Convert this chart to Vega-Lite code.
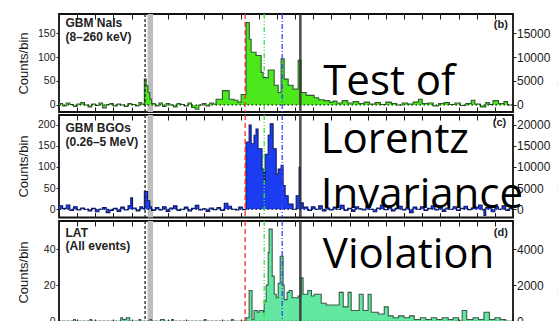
{
  "$schema": "https://vega.github.io/schema/vega-lite/v6.json",
  "padding": {"left": 16, "top": 11, "right": 0, "bottom": 0},
  "spacing": 3,
  "bounds": "flush",
  "datasets": {
    "nai": [
      {"t":-0.50,"v":3},{"t":-0.48,"v":-2},{"t":-0.46,"v":4},{"t":-0.44,"v":1},{"t":-0.42,"v":-3},{"t":-0.40,"v":2},{"t":-0.38,"v":5},{"t":-0.36,"v":0},{"t":-0.34,"v":-4},{"t":-0.32,"v":2},{"t":-0.30,"v":-1},{"t":-0.28,"v":4},{"t":-0.26,"v":-6},{"t":-0.24,"v":1},{"t":-0.22,"v":3},{"t":-0.20,"v":-2},{"t":-0.18,"v":2},{"t":-0.16,"v":0},{"t":-0.14,"v":-3},{"t":-0.12,"v":3},{"t":-0.10,"v":1},{"t":-0.08,"v":-2},{"t":-0.06,"v":5},{"t":-0.045,"v":2},
      {"t":-0.03,"v":54},{"t":-0.02,"v":40},{"t":-0.01,"v":26},{"t":0.00,"v":12},{"t":0.01,"v":3},{"t":0.03,"v":-2},{"t":0.05,"v":4},{"t":0.07,"v":-3},{"t":0.09,"v":3},{"t":0.11,"v":0},{"t":0.13,"v":-4},{"t":0.15,"v":3},{"t":0.17,"v":1},{"t":0.19,"v":-2},{"t":0.21,"v":4},{"t":0.23,"v":-5},{"t":0.25,"v":-9},{"t":0.27,"v":0},{"t":0.29,"v":3},{"t":0.31,"v":-2},{"t":0.33,"v":4},{"t":0.35,"v":2},
      {"t":0.365,"v":12},{"t":0.40,"v":30},{"t":0.437,"v":12},{"t":0.464,"v":10},{"t":0.485,"v":6},{"t":0.503,"v":22},
      {"t":0.530,"v":172},{"t":0.548,"v":137},{"t":0.558,"v":110},{"t":0.585,"v":103},{"t":0.613,"v":68},{"t":0.624,"v":57},{"t":0.652,"v":73},{"t":0.685,"v":41},{"t":0.707,"v":26},{"t":0.723,"v":96},{"t":0.740,"v":54},{"t":0.762,"v":41},{"t":0.789,"v":33},{"t":0.817,"v":93},{"t":0.833,"v":26},{"t":0.861,"v":20},{"t":0.905,"v":15},{"t":0.93,"v":11},{"t":0.96,"v":9},{"t":0.99,"v":6},
      {"t":1.01,"v":8},{"t":1.03,"v":4},{"t":1.06,"v":9},{"t":1.09,"v":4},{"t":1.12,"v":7},{"t":1.15,"v":3},{"t":1.18,"v":6},{"t":1.21,"v":2},{"t":1.24,"v":5},{"t":1.27,"v":1},{"t":1.30,"v":6},{"t":1.33,"v":3},{"t":1.36,"v":0},{"t":1.39,"v":4},{"t":1.42,"v":2},{"t":1.45,"v":6},{"t":1.48,"v":12},{"t":1.50,"v":3},{"t":1.53,"v":4},{"t":1.56,"v":-2},{"t":1.59,"v":3},{"t":1.62,"v":5},{"t":1.65,"v":1},{"t":1.68,"v":4},{"t":1.71,"v":-1},{"t":1.74,"v":3},{"t":1.77,"v":10},{"t":1.79,"v":2},{"t":1.82,"v":-4},{"t":1.85,"v":5},{"t":1.87,"v":1},{"t":1.89,"v":9},{"t":1.92,"v":3},{"t":1.95,"v":7},{"t":1.97,"v":0},{"t":2.00,"v":0}
    ],
    "bgo": [
      {"t":-0.50,"v":8},{"t":-0.48,"v":2},{"t":-0.46,"v":10},{"t":-0.44,"v":-3},{"t":-0.42,"v":6},{"t":-0.40,"v":-2},{"t":-0.38,"v":3},{"t":-0.36,"v":0},{"t":-0.34,"v":-4},{"t":-0.32,"v":2},{"t":-0.30,"v":-6},{"t":-0.28,"v":0},{"t":-0.26,"v":4},{"t":-0.24,"v":-8},{"t":-0.22,"v":-3},{"t":-0.20,"v":2},{"t":-0.18,"v":-5},{"t":-0.16,"v":5},{"t":-0.14,"v":-2},{"t":-0.12,"v":8},{"t":-0.105,"v":27},{"t":-0.095,"v":3},{"t":-0.075,"v":-4},{"t":-0.055,"v":6},{"t":-0.04,"v":2},
      {"t":-0.03,"v":42},{"t":-0.012,"v":20},{"t":0.00,"v":6},{"t":0.01,"v":-3},{"t":0.03,"v":4},{"t":0.05,"v":-2},{"t":0.07,"v":6},{"t":0.09,"v":-5},{"t":0.11,"v":3},{"t":0.13,"v":8},{"t":0.15,"v":-3},{"t":0.17,"v":0},{"t":0.19,"v":5},{"t":0.21,"v":-4},{"t":0.23,"v":2},{"t":0.25,"v":9},{"t":0.27,"v":-2},{"t":0.29,"v":1},{"t":0.31,"v":-5},{"t":0.33,"v":3},{"t":0.35,"v":-1},{"t":0.37,"v":4},{"t":0.39,"v":-3},{"t":0.41,"v":14},{"t":0.43,"v":7},{"t":0.45,"v":0},{"t":0.47,"v":-2},{"t":0.49,"v":5},{"t":0.51,"v":-1},
      {"t":0.530,"v":159},{"t":0.547,"v":199},{"t":0.558,"v":155},{"t":0.574,"v":175},{"t":0.585,"v":190},{"t":0.596,"v":143},{"t":0.618,"v":95},{"t":0.629,"v":64},{"t":0.635,"v":130},{"t":0.652,"v":175},{"t":0.663,"v":202},{"t":0.679,"v":143},{"t":0.696,"v":83},{"t":0.707,"v":95},{"t":0.723,"v":104},{"t":0.734,"v":56},{"t":0.745,"v":32},{"t":0.762,"v":12},{"t":0.789,"v":0},{"t":0.806,"v":32},{"t":0.822,"v":99},{"t":0.828,"v":15},{"t":0.845,"v":5},
      {"t":0.87,"v":-3},{"t":0.89,"v":6},{"t":0.91,"v":0},{"t":0.93,"v":8},{"t":0.95,"v":-4},{"t":0.97,"v":3},{"t":0.99,"v":-2},{"t":1.01,"v":5},{"t":1.03,"v":0},{"t":1.05,"v":9},{"t":1.07,"v":-3},{"t":1.09,"v":2},{"t":1.11,"v":-5},{"t":1.13,"v":6},{"t":1.15,"v":1},{"t":1.17,"v":-2},{"t":1.19,"v":8},{"t":1.21,"v":0},{"t":1.23,"v":-6},{"t":1.25,"v":3},{"t":1.27,"v":10},{"t":1.29,"v":-1},{"t":1.31,"v":4},{"t":1.33,"v":-4},{"t":1.35,"v":2},{"t":1.37,"v":7},{"t":1.39,"v":-2},{"t":1.41,"v":3},{"t":1.43,"v":-8},{"t":1.45,"v":5},{"t":1.47,"v":0},{"t":1.49,"v":6},{"t":1.51,"v":-3},{"t":1.53,"v":2},{"t":1.55,"v":8},{"t":1.57,"v":-2},{"t":1.59,"v":4},{"t":1.61,"v":-5},{"t":1.63,"v":3},{"t":1.65,"v":0},{"t":1.67,"v":6},{"t":1.69,"v":-3},{"t":1.71,"v":2},{"t":1.73,"v":7},{"t":1.75,"v":-1},{"t":1.77,"v":3},{"t":1.79,"v":5},{"t":1.81,"v":10},{"t":1.83,"v":-2},{"t":1.84,"v":-15},{"t":1.85,"v":4},{"t":1.88,"v":-6},{"t":1.90,"v":6},{"t":1.92,"v":0},{"t":1.94,"v":8},{"t":1.96,"v":-3},{"t":1.98,"v":2},{"t":2.00,"v":2}
    ],
    "lat": [
      {"t":-0.50,"v":0},{"t":-0.42,"v":1},{"t":-0.41,"v":0},{"t":-0.33,"v":1},{"t":-0.32,"v":0},{"t":-0.16,"v":2},{"t":-0.15,"v":1},{"t":-0.13,"v":2},{"t":-0.11,"v":0},{"t":-0.06,"v":1},{"t":-0.05,"v":0},{"t":0.00,"v":1},{"t":0.01,"v":0},{"t":0.06,"v":1},{"t":0.08,"v":0},{"t":0.12,"v":1},{"t":0.13,"v":0},{"t":0.30,"v":1},{"t":0.31,"v":0},{"t":0.45,"v":1},{"t":0.46,"v":0},
      {"t":0.530,"v":2},{"t":0.547,"v":17},{"t":0.563,"v":1},{"t":0.574,"v":6},{"t":0.591,"v":5},{"t":0.602,"v":6},{"t":0.624,"v":5},{"t":0.630,"v":11},{"t":0.641,"v":20},{"t":0.652,"v":38},{"t":0.657,"v":51},{"t":0.674,"v":25},{"t":0.685,"v":15},{"t":0.696,"v":13},{"t":0.707,"v":21},{"t":0.718,"v":36},{"t":0.734,"v":20},{"t":0.740,"v":12},{"t":0.756,"v":16},{"t":0.767,"v":17},{"t":0.784,"v":13},{"t":0.817,"v":14},{"t":0.833,"v":24},{"t":0.844,"v":15},{"t":0.87,"v":17},{"t":0.89,"v":14},{"t":0.905,"v":15},{"t":0.944,"v":10},{"t":0.971,"v":9},{"t":1.015,"v":9},{"t":1.043,"v":16},{"t":1.065,"v":8},{"t":1.092,"v":16},{"t":1.109,"v":6},{"t":1.153,"v":15},{"t":1.175,"v":6},{"t":1.202,"v":15},{"t":1.219,"v":5},{"t":1.258,"v":4},{"t":1.291,"v":8},{"t":1.313,"v":3},{"t":1.34,"v":2},{"t":1.37,"v":3},{"t":1.40,"v":2},{"t":1.43,"v":3},{"t":1.456,"v":1},{"t":1.49,"v":2},{"t":1.52,"v":1},{"t":1.55,"v":2},{"t":1.58,"v":1},{"t":1.61,"v":2},{"t":1.643,"v":1},{"t":1.67,"v":2},{"t":1.70,"v":0},{"t":1.72,"v":6},{"t":1.745,"v":1},{"t":1.78,"v":2},{"t":1.81,"v":1},{"t":1.84,"v":5},{"t":1.87,"v":1},{"t":1.90,"v":2},{"t":1.93,"v":1},{"t":1.96,"v":0},{"t":2.00,"v":0}
    ],
    "vlines": [
      {"t":-0.026,"kind":"trigger"},{"t":0.525,"kind":"red"},{"t":0.630,"kind":"green"},{"t":0.729,"kind":"blue"}
    ],
    "ghe": [{"t":0.829}],
    "band": [{"t0":-0.012,"t1":0.018}],
    "zero": [{"v":0}],
    "labels": [
      {"panel":"b","t":-0.464,"v":161.5,"text":"GBM NaIs"},
      {"panel":"b","t":-0.464,"v":133.3,"text":"(8–260 keV)"},
      {"panel":"c","t":-0.464,"v":181.6,"text":"GBM BGOs"},
      {"panel":"c","t":-0.464,"v":149.6,"text":"(0.26–5 MeV)"},
      {"panel":"d","t":-0.464,"v":46.6,"text":"LAT"},
      {"panel":"d","t":-0.464,"v":39.2,"text":"(All events)"}
    ],
    "tags": [
      {"panel":"b","t":1.972,"v":160.4,"text":"(b)"},
      {"panel":"c","t":1.963,"v":195.8,"text":"(c)"},
      {"panel":"d","t":1.972,"v":47.2,"text":"(d)"}
    ],
    "overlay": [
      {"panel":"b","t":0.955,"v":19.8,"text":"Test of"},
      {"panel":"c","t":0.941,"v":134.2,"text":"Lorentz"},
      {"panel":"c","t":0.941,"v":4.0,"text":"Invariance"},
      {"panel":"d","t":0.953,"v":29.5,"text":"Violation"}
    ]
  },
  "resolve": {"scale": {"x": "independent", "y": "independent"}},
  "vconcat": [
    {
      "width": 454, "height": 98,
      "layer": [
        {"data": {"name": "band"}, "mark": {"type": "rect", "color": "#bdbdbd"},
         "encoding": {"x": {"field": "t0", "type": "quantitative", "scale": {"domain": [-0.5, 2.0], "nice": false, "zero": false}, "axis": null}, "x2": {"field": "t1"}}},
        {"data": {"name": "nai"}, "mark": {"type": "area", "interpolate": "step-after", "color": "#4ce81c", "opacity": 1},
         "encoding": {
           "x": {"field": "t", "type": "quantitative", "scale": {"domain": [-0.5, 2.0], "nice": false, "zero": false},
                 "axis": {"orient": "bottom", "labels": false, "title": null, "tickSize": -5, "values": [-0.5,-0.4,-0.3,-0.2,-0.1,0,0.1,0.2,0.3,0.4,0.5,0.6,0.7,0.8,0.9,1.0,1.1,1.2,1.3,1.4,1.5,1.6,1.7,1.8,1.9,2.0]}},
           "y": {"field": "v", "type": "quantitative", "scale": {"domain": [-14.6, 189.6], "nice": false, "zero": false},
                 "axis": {"orient": "left", "values": [0,50,100,150], "tickSize": 3, "labelPadding": 1, "title": "Counts/bin", "titleX": -32, "titleY": 49, "titleAngle": 270, "titleBaseline": "alphabetic", "titleAlign": "center"}},
           "y2": {"datum": 0}}},
        {"data": {"name": "nai"}, "mark": {"type": "line", "interpolate": "step-after", "color": "#2e5b2e", "strokeWidth": 1.1},
         "encoding": {
           "x": {"field": "t", "type": "quantitative", "scale": {"domain": [-0.5, 2.0], "nice": false, "zero": false},
                 "axis": {"orient": "top", "labels": false, "title": null, "tickSize": -5, "values": [-0.5,-0.4,-0.3,-0.2,-0.1,0,0.1,0.2,0.3,0.4,0.5,0.6,0.7,0.8,0.9,1.0,1.1,1.2,1.3,1.4,1.5,1.6,1.7,1.8,1.9,2.0]}},
           "y": {"field": "v", "type": "quantitative", "scale": {"domain": [-14.6, 189.6], "nice": false, "zero": false},
                 "axis": {"orient": "right", "values": [0,50,100,150], "tickSize": 3, "labelPadding": 0.5, "labelFontSize": 12, "labelExpr": "format(datum.value * 100, 'd')", "title": "Counts/s", "titleX": 53, "titleY": 49, "titleAngle": 270, "titleBaseline": "alphabetic", "titleAlign": "center"}}}},
        {"data": {"name": "zero"}, "mark": {"type": "rule", "strokeDash": [1.5, 2.5], "color": "#000", "strokeWidth": 1},
         "encoding": {"y": {"field": "v", "type": "quantitative", "scale": {"domain": [-14.6, 189.6], "nice": false, "zero": false}, "axis": null}}},
        {"data": {"name": "vlines"}, "mark": {"type": "rule", "strokeWidth": 1.3},
         "encoding": {"x": {"field": "t", "type": "quantitative", "scale": {"domain": [-0.5, 2.0], "nice": false, "zero": false}, "axis": null},
           "color": {"field": "kind", "type": "nominal", "scale": {"domain": ["trigger","red","green","blue"], "range": ["#222222","#ff2a2a","#3ddf3d","#3344ff"]}, "legend": null},
           "strokeDash": {"field": "kind", "type": "nominal", "scale": {"domain": ["trigger","red","green","blue"], "range": [[3,2],[5,3],[5,2,1,2,1,2],[5,2,1,2]]}, "legend": null}}},
        {"data": {"name": "ghe"}, "mark": {"type": "rule", "strokeWidth": 2.6, "color": "#333333", "opacity": 0.85},
         "encoding": {"x": {"field": "t", "type": "quantitative", "scale": {"domain": [-0.5, 2.0], "nice": false, "zero": false}, "axis": null}}},
        {"data": {"name": "labels"}, "transform": [{"filter": "datum.panel == 'b'"}],
         "mark": {"type": "text", "align": "left", "baseline": "alphabetic", "font": "Liberation Sans", "fontWeight": "bold", "fontSize": 12, "color": "#222"},
         "encoding": {"x": {"field": "t", "type": "quantitative", "scale": {"domain": [-0.5, 2.0], "nice": false, "zero": false}, "axis": null},
           "y": {"field": "v", "type": "quantitative", "scale": {"domain": [-14.6, 189.6], "nice": false, "zero": false}, "axis": null}, "text": {"field": "text"}}},
        {"data": {"name": "tags"}, "transform": [{"filter": "datum.panel == 'b'"}],
         "mark": {"type": "text", "align": "right", "baseline": "alphabetic", "font": "Liberation Sans", "fontWeight": "bold", "fontSize": 11, "color": "#222"},
         "encoding": {"x": {"field": "t", "type": "quantitative", "scale": {"domain": [-0.5, 2.0], "nice": false, "zero": false}, "axis": null},
           "y": {"field": "v", "type": "quantitative", "scale": {"domain": [-14.6, 189.6], "nice": false, "zero": false}, "axis": null}, "text": {"field": "text"}}},
        {"data": {"name": "overlay"}, "transform": [{"filter": "datum.panel == 'b'"}],
         "mark": {"type": "text", "align": "left", "baseline": "alphabetic", "font": "Open Sans", "fontSize": 42, "color": "#000"},
         "encoding": {"x": {"field": "t", "type": "quantitative", "scale": {"domain": [-0.5, 2.0], "nice": false, "zero": false}, "axis": null},
           "y": {"field": "v", "type": "quantitative", "scale": {"domain": [-14.6, 189.6], "nice": false, "zero": false}, "axis": null}, "text": {"field": "text"}}}
      ],
      "resolve": {"axis": {"x": "independent", "y": "independent"}}
    },
    {
      "width": 454, "height": 102.5,
      "layer": [
        {"data": {"name": "band"}, "mark": {"type": "rect", "color": "#bdbdbd"},
         "encoding": {"x": {"field": "t0", "type": "quantitative", "scale": {"domain": [-0.5, 2.0], "nice": false, "zero": false}, "axis": null}, "x2": {"field": "t1"}}},
        {"data": {"name": "bgo"}, "mark": {"type": "area", "interpolate": "step-after", "color": "#1c3cf2", "opacity": 1},
         "encoding": {
           "x": {"field": "t", "type": "quantitative", "scale": {"domain": [-0.5, 2.0], "nice": false, "zero": false},
                 "axis": {"orient": "bottom", "labels": false, "title": null, "tickSize": -5, "values": [-0.5,-0.4,-0.3,-0.2,-0.1,0,0.1,0.2,0.3,0.4,0.5,0.6,0.7,0.8,0.9,1.0,1.1,1.2,1.3,1.4,1.5,1.6,1.7,1.8,1.9,2.0]}},
           "y": {"field": "v", "type": "quantitative", "scale": {"domain": [-19.6, 223], "nice": false, "zero": false},
                 "axis": {"orient": "left", "values": [0,50,100,150,200], "tickSize": 3, "labelPadding": 1, "title": "Counts/bin", "titleX": -32, "titleY": 51, "titleAngle": 270, "titleBaseline": "alphabetic", "titleAlign": "center"}},
           "y2": {"datum": 0}}},
        {"data": {"name": "bgo"}, "mark": {"type": "line", "interpolate": "step-after", "color": "#0e1a66", "strokeWidth": 1.1},
         "encoding": {
           "x": {"field": "t", "type": "quantitative", "scale": {"domain": [-0.5, 2.0], "nice": false, "zero": false},
                 "axis": {"orient": "top", "labels": false, "title": null, "tickSize": -5, "values": [-0.5,-0.4,-0.3,-0.2,-0.1,0,0.1,0.2,0.3,0.4,0.5,0.6,0.7,0.8,0.9,1.0,1.1,1.2,1.3,1.4,1.5,1.6,1.7,1.8,1.9,2.0]}},
           "y": {"field": "v", "type": "quantitative", "scale": {"domain": [-19.6, 223], "nice": false, "zero": false},
                 "axis": {"orient": "right", "values": [0,50,100,150,200], "tickSize": 3, "labelPadding": 0.5, "labelFontSize": 12, "labelExpr": "format(datum.value * 100, 'd')", "title": "Counts/s", "titleX": 53, "titleY": 51, "titleAngle": 270, "titleBaseline": "alphabetic", "titleAlign": "center"}}}},
        {"data": {"name": "zero"}, "mark": {"type": "rule", "strokeDash": [1.5, 2.5], "color": "#000", "strokeWidth": 1},
         "encoding": {"y": {"field": "v", "type": "quantitative", "scale": {"domain": [-19.6, 223], "nice": false, "zero": false}, "axis": null}}},
        {"data": {"name": "vlines"}, "mark": {"type": "rule", "strokeWidth": 1.3},
         "encoding": {"x": {"field": "t", "type": "quantitative", "scale": {"domain": [-0.5, 2.0], "nice": false, "zero": false}, "axis": null},
           "color": {"field": "kind", "type": "nominal", "scale": {"domain": ["trigger","red","green","blue"], "range": ["#222222","#ff2a2a","#3ddf3d","#3344ff"]}, "legend": null},
           "strokeDash": {"field": "kind", "type": "nominal", "scale": {"domain": ["trigger","red","green","blue"], "range": [[3,2],[5,3],[5,2,1,2,1,2],[5,2,1,2]]}, "legend": null}}},
        {"data": {"name": "ghe"}, "mark": {"type": "rule", "strokeWidth": 2.6, "color": "#333333", "opacity": 0.85},
         "encoding": {"x": {"field": "t", "type": "quantitative", "scale": {"domain": [-0.5, 2.0], "nice": false, "zero": false}, "axis": null}}},
        {"data": {"name": "labels"}, "transform": [{"filter": "datum.panel == 'c'"}],
         "mark": {"type": "text", "align": "left", "baseline": "alphabetic", "font": "Liberation Sans", "fontWeight": "bold", "fontSize": 12, "color": "#222"},
         "encoding": {"x": {"field": "t", "type": "quantitative", "scale": {"domain": [-0.5, 2.0], "nice": false, "zero": false}, "axis": null},
           "y": {"field": "v", "type": "quantitative", "scale": {"domain": [-19.6, 223], "nice": false, "zero": false}, "axis": null}, "text": {"field": "text"}}},
        {"data": {"name": "tags"}, "transform": [{"filter": "datum.panel == 'c'"}],
         "mark": {"type": "text", "align": "right", "baseline": "alphabetic", "font": "Liberation Sans", "fontWeight": "bold", "fontSize": 11, "color": "#222"},
         "encoding": {"x": {"field": "t", "type": "quantitative", "scale": {"domain": [-0.5, 2.0], "nice": false, "zero": false}, "axis": null},
           "y": {"field": "v", "type": "quantitative", "scale": {"domain": [-19.6, 223], "nice": false, "zero": false}, "axis": null}, "text": {"field": "text"}}},
        {"data": {"name": "overlay"}, "transform": [{"filter": "datum.panel == 'c'"}],
         "mark": {"type": "text", "align": "left", "baseline": "alphabetic", "font": "Open Sans", "fontSize": 42, "color": "#000"},
         "encoding": {"x": {"field": "t", "type": "quantitative", "scale": {"domain": [-0.5, 2.0], "nice": false, "zero": false}, "axis": null},
           "y": {"field": "v", "type": "quantitative", "scale": {"domain": [-19.6, 223], "nice": false, "zero": false}, "axis": null}, "text": {"field": "text"}}}
      ],
      "resolve": {"axis": {"x": "independent", "y": "independent"}}
    },
    {
      "width": 454, "height": 103,
      "layer": [
        {"data": {"name": "band"}, "mark": {"type": "rect", "color": "#bdbdbd"},
         "encoding": {"x": {"field": "t0", "type": "quantitative", "scale": {"domain": [-0.5, 2.0], "nice": false, "zero": false}, "axis": null}, "x2": {"field": "t1"}}},
        {"data": {"name": "lat"}, "mark": {"type": "area", "interpolate": "step-after", "color": "#62e8a0", "opacity": 1},
         "encoding": {
           "x": {"field": "t", "type": "quantitative", "scale": {"domain": [-0.5, 2.0], "nice": false, "zero": false},
                 "axis": {"orient": "bottom", "labels": false, "title": null, "tickSize": -5, "values": [-0.5,-0.4,-0.3,-0.2,-0.1,0,0.1,0.2,0.3,0.4,0.5,0.6,0.7,0.8,0.9,1.0,1.1,1.2,1.3,1.4,1.5,1.6,1.7,1.8,1.9,2.0]}},
           "y": {"field": "v", "type": "quantitative", "scale": {"domain": [-1.5, 55.5], "nice": false, "zero": false},
                 "axis": {"orient": "left", "values": [0,20,40], "tickSize": 3, "labelPadding": 1, "title": "Counts/bin", "titleX": -32, "titleY": 51, "titleAngle": 270, "titleBaseline": "alphabetic", "titleAlign": "center"}},
           "y2": {"datum": 0}}},
        {"data": {"name": "lat"}, "mark": {"type": "line", "interpolate": "step-after", "color": "#3b5a48", "strokeWidth": 1.1},
         "encoding": {
           "x": {"field": "t", "type": "quantitative", "scale": {"domain": [-0.5, 2.0], "nice": false, "zero": false},
                 "axis": {"orient": "top", "labels": false, "title": null, "tickSize": -5, "values": [-0.5,-0.4,-0.3,-0.2,-0.1,0,0.1,0.2,0.3,0.4,0.5,0.6,0.7,0.8,0.9,1.0,1.1,1.2,1.3,1.4,1.5,1.6,1.7,1.8,1.9,2.0]}},
           "y": {"field": "v", "type": "quantitative", "scale": {"domain": [-1.5, 55.5], "nice": false, "zero": false},
                 "axis": {"orient": "right", "values": [0,20,40], "tickSize": 3, "labelPadding": 0.5, "labelFontSize": 12, "labelExpr": "format(datum.value * 100, 'd')", "title": "Counts/s", "titleX": 53, "titleY": 51, "titleAngle": 270, "titleBaseline": "alphabetic", "titleAlign": "center"}}}},
        {"data": {"name": "zero"}, "mark": {"type": "rule", "strokeDash": [1.5, 2.5], "color": "#000", "strokeWidth": 1},
         "encoding": {"y": {"field": "v", "type": "quantitative", "scale": {"domain": [-1.5, 55.5], "nice": false, "zero": false}, "axis": null}}},
        {"data": {"name": "vlines"}, "mark": {"type": "rule", "strokeWidth": 1.3},
         "encoding": {"x": {"field": "t", "type": "quantitative", "scale": {"domain": [-0.5, 2.0], "nice": false, "zero": false}, "axis": null},
           "color": {"field": "kind", "type": "nominal", "scale": {"domain": ["trigger","red","green","blue"], "range": ["#222222","#ff2a2a","#3ddf3d","#3344ff"]}, "legend": null},
           "strokeDash": {"field": "kind", "type": "nominal", "scale": {"domain": ["trigger","red","green","blue"], "range": [[3,2],[5,3],[5,2,1,2,1,2],[5,2,1,2]]}, "legend": null}}},
        {"data": {"name": "ghe"}, "mark": {"type": "rule", "strokeWidth": 2.6, "color": "#333333", "opacity": 0.85},
         "encoding": {"x": {"field": "t", "type": "quantitative", "scale": {"domain": [-0.5, 2.0], "nice": false, "zero": false}, "axis": null}}},
        {"data": {"name": "labels"}, "transform": [{"filter": "datum.panel == 'd'"}],
         "mark": {"type": "text", "align": "left", "baseline": "alphabetic", "font": "Liberation Sans", "fontWeight": "bold", "fontSize": 12, "color": "#222"},
         "encoding": {"x": {"field": "t", "type": "quantitative", "scale": {"domain": [-0.5, 2.0], "nice": false, "zero": false}, "axis": null},
           "y": {"field": "v", "type": "quantitative", "scale": {"domain": [-1.5, 55.5], "nice": false, "zero": false}, "axis": null}, "text": {"field": "text"}}},
        {"data": {"name": "tags"}, "transform": [{"filter": "datum.panel == 'd'"}],
         "mark": {"type": "text", "align": "right", "baseline": "alphabetic", "font": "Liberation Sans", "fontWeight": "bold", "fontSize": 11, "color": "#222"},
         "encoding": {"x": {"field": "t", "type": "quantitative", "scale": {"domain": [-0.5, 2.0], "nice": false, "zero": false}, "axis": null},
           "y": {"field": "v", "type": "quantitative", "scale": {"domain": [-1.5, 55.5], "nice": false, "zero": false}, "axis": null}, "text": {"field": "text"}}},
        {"data": {"name": "overlay"}, "transform": [{"filter": "datum.panel == 'd'"}],
         "mark": {"type": "text", "align": "left", "baseline": "alphabetic", "font": "Open Sans", "fontSize": 42, "color": "#000"},
         "encoding": {"x": {"field": "t", "type": "quantitative", "scale": {"domain": [-0.5, 2.0], "nice": false, "zero": false}, "axis": null},
           "y": {"field": "v", "type": "quantitative", "scale": {"domain": [-1.5, 55.5], "nice": false, "zero": false}, "axis": null}, "text": {"field": "text"}}}
      ],
      "resolve": {"axis": {"x": "independent", "y": "independent"}}
    }
  ],
  "config": {
    "background": "white",
    "view": {"stroke": "#111111", "strokeWidth": 1.8},
    "axis": {"grid": false, "domain": false, "labelFont": "Liberation Sans", "labelFontSize": 10.5, "labelColor": "#1a1a1a", "tickColor": "#1a1a1a", "tickWidth": 1, "titleFont": "Liberation Sans", "titleFontSize": 13, "titleFontWeight": "normal", "titleColor": "#1a1a1a"}
  }
}
